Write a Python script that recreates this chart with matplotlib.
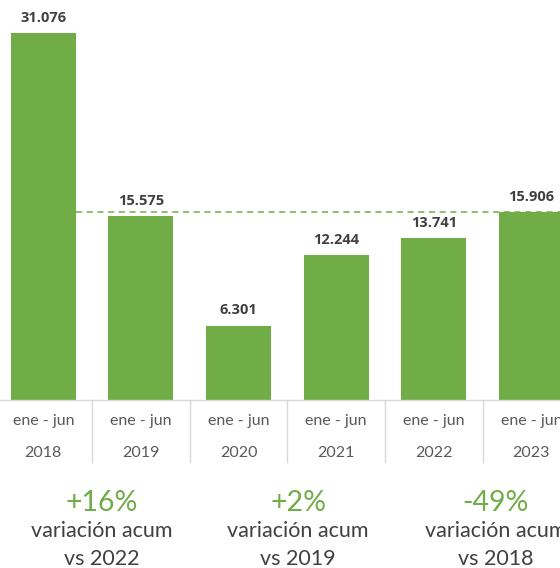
import numpy as np
import matplotlib
matplotlib.use("Agg")
import matplotlib.pyplot as plt

# data
periods = ["ene - jun"] * 6
years = ["2018", "2019", "2020", "2021", "2022", "2023"]
values = [31.076, 15.575, 6.301, 12.244, 13.741, 15.906]
changes = ["+16%", "+2%", "-49%"]
change_refs = ["vs 2022", "vs 2019", "vs 2018"]

green = "#70ad47"
dark = "#404040"
gray = "#595959"
line_gray = "#d9d9d9"

W, H = 560, 568
fig = plt.figure(figsize=(W / 100, H / 100), dpi=100)
base_px = 400
ax = fig.add_axes([0, (H - base_px) / H, 1, base_px / H])

x = np.arange(len(values))
bw = 0.666
ax.bar(x, values, width=bw, color=green, zorder=2)

px_per_unit = 367 / 31.076
ax.set_ylim(0, base_px / px_per_unit)
cat_px = 97.6
x0 = 43.3
ax.set_xlim(-x0 / cat_px, (W - x0) / cat_px)

for xi, v in zip(x, values):
    ax.annotate(f"{v:.3f}", (xi, v), xytext=(0, 8), textcoords="offset points",
                ha="center", va="baseline", fontsize=10.5, fontweight="bold",
                color=dark, family="Open Sans")

# reference line at last value
ax.hlines(values[-1], x[0] + bw / 2, x[-1] + 1, colors=green,
          linestyles=(0, (4, 3)), linewidth=1.1, zorder=1)

for s in ["top", "left", "right"]:
    ax.spines[s].set_visible(False)
ax.spines["bottom"].set_color(line_gray)
ax.spines["bottom"].set_linewidth(1)
ax.set_yticks([])

ax.set_xticks(x)
ax.set_xticklabels([f"{p}\n{y}" for p, y in zip(periods, years)],
                   fontsize=11.5, color=gray, family="Lato", linespacing=2.65)
ax.tick_params(axis="x", which="major", length=0, pad=10)
ax.set_xticks(x[:-1] + 0.5, minor=True)
ax.tick_params(axis="x", which="minor", length=45, width=1, color=line_gray)

# footer notes
centers = [102, 298, 495.5]
for cx, c, r in zip(centers, changes, change_refs):
    fig.text(cx / W, (H - 511) / H, c, ha="center", va="baseline",
             fontsize=20.5, color=green, family="Lato")
    fig.text(cx / W, (H - 537) / H, "variación acum", ha="center", va="baseline",
             fontsize=15.5, color=dark, family="Lato")
    fig.text(cx / W, (H - 565) / H, r, ha="center", va="baseline",
             fontsize=15.5, color=dark, family="Lato")

fig.savefig("out.png", dpi=100)
